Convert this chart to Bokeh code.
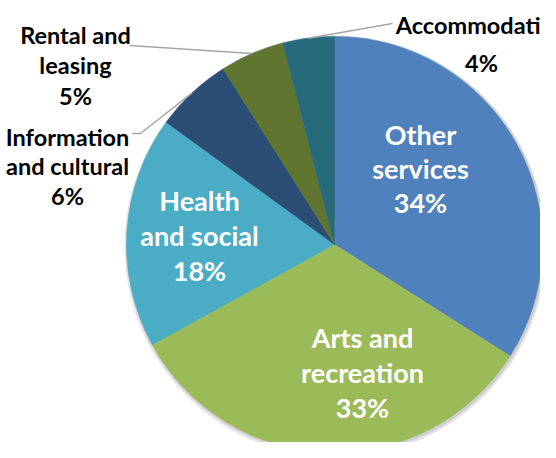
import math
from bokeh.plotting import figure
from bokeh.models import Range1d
from bokeh.core.properties import value
from bokeh.embed import file_html
from bokeh.resources import INLINE

# ---- data ----
categories = ["Other services", "Arts and recreation", "Health and social",
              "Information and cultural", "Rental and leasing", "Accommodation"]
shares = [34, 33, 18, 6, 5, 4]
label_lines = [["Other", "services"], ["Arts and", "recreation"], ["Health", "and social"],
               ["Information", "and cultural"], ["Rental and", "leasing"], ["Accommodation"]]
colors = ["#4F81BD", "#9BBB59", "#4BACC6", "#2C4D75", "#5F7530", "#276A7C"]

# ---- layout (screen pixels) ----
W, H = 540, 442
OX, OY = 8, 8
def dx(x): return x - OX
def dy(y): return H + OY - y

CX, CY, R = 342, 252, 208
# label anchor: (x, first baseline y, line spacing, inside?)
label_layout = [(428, 142, 34, True), (370, 345, 35, True), (207, 208, 35, True),
                (75, 144, 29.5, False), (83, 42, 30.5, False), (489, 32, 38, False)]
# leader line end points (screen), per outside label
leader_ends = {3: [(148, 141), (140, 141)], 4: [(137, 53)], 5: [(400, 31)]}

p = figure(width=W, height=H, output_backend="svg", toolbar_location=None,
           x_range=Range1d(0, W), y_range=Range1d(0, H), min_border=0)
p.axis.visible = False
p.grid.visible = False
p.outline_line_color = None
p.background_fill_color = "white"

total = sum(shares)
cum = 0.0
starts, ends, mids = [], [], []
for s in shares:
    a0 = math.pi / 2 - 2 * math.pi * cum / total
    cum += s
    a1 = math.pi / 2 - 2 * math.pi * cum / total
    starts.append(a1)
    ends.append(a0)
    mids.append((a0 + a1) / 2)

# soft shadow
p.circle(x=[dx(CX) + 1], y=[dy(CY) - 2], radius=R + 3, fill_color="#000000",
         fill_alpha=0.10, line_color=None)
p.circle(x=[dx(CX) + 1], y=[dy(CY) - 1], radius=R + 1.5, fill_color="#000000",
         fill_alpha=0.10, line_color=None)

p.wedge(x=[dx(CX)] * len(shares), y=[dy(CY)] * len(shares), radius=R,
        start_angle=starts, end_angle=ends, fill_color=colors, line_color=colors,
        line_width=0.5)

# leader lines
for i, pts in leader_ends.items():
    x0 = dx(CX) + R * math.cos(mids[i])
    y0 = dy(CY) + R * math.sin(mids[i])
    xs = [x0] + [dx(px) for px, py in pts]
    ys = [y0] + [dy(py) for px, py in pts]
    p.line(xs, ys, line_color="#A6A6A6", line_width=1.5)

# labels
for i, (lines, s) in enumerate(zip(label_lines, shares)):
    lx, ly, sp, inside = label_layout[i]
    all_lines = lines + [f"{s}%"]
    xs = [dx(lx)] * len(all_lines)
    ys = [dy(ly + k * sp) for k in range(len(all_lines))]
    p.text(x=xs, y=ys, text=all_lines, text_align="center", text_baseline="alphabetic",
           text_font=value("Lato"), text_font_style="bold",
           text_font_size="27px" if inside else "23.5px",
           text_color="white" if inside else "black")

open("out.html", "w").write(file_html(p, INLINE))
